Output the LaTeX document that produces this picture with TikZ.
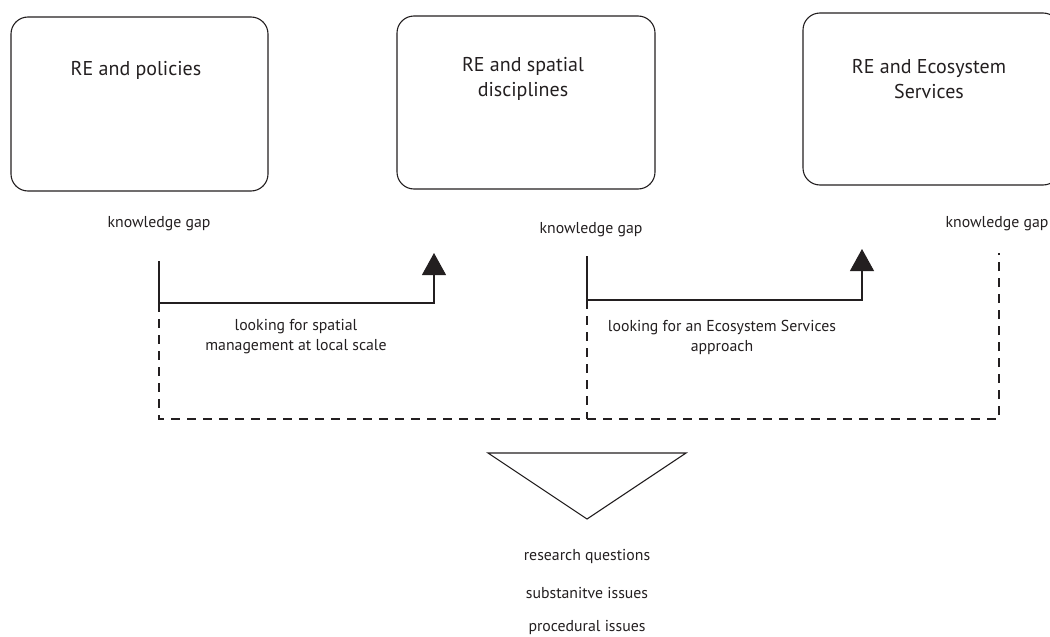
\documentclass[tikz,border=0pt]{standalone}
\usepackage{fontspec}
\setmainfont{PT Sans}
\usetikzlibrary{arrows.meta}
\definecolor{ink}{HTML}{231F20}
\tikzset{
  topicbox/.style={draw=ink, line width=1.1pt, rounded corners=17pt, inner sep=0pt},
  topictitle/.style={text=ink, font=\fontsize{20}{25}\selectfont, align=center},
  smalllabel/.style={text=ink, font=\fontsize{15.8}{20}\selectfont, align=center},
  solidlink/.style={draw=ink, line width=1.1pt},
  dashlink/.style={draw=ink, line width=1.1pt, dash pattern=on 9pt off 7pt},
  tiparrow/.style={solidlink, -{Triangle[width=24pt,length=22pt]}},
  funnel/.style={draw=ink, line width=1.1pt, line join=miter}
}
\begin{document}
\begin{tikzpicture}[x=1pt, y=-1pt]
\useasboundingbox (0,0) rectangle (1050,637);
\clip (0,0) rectangle (1050,637);

% topic boxes
\node[topicbox, minimum width=257pt, minimum height=174pt] (boxA) at (139.5,104) {};
\node[topicbox, minimum width=258pt, minimum height=173pt] (boxB) at (526,102.5) {};
\node[topicbox, minimum width=257pt, minimum height=172pt] (boxC) at (931.5,99) {};

\node[topictitle] (titleA) at (136,70) {RE and policies};
\node[topictitle] (titleB) at (523,79) {RE and spatial\\disciplines};
\node[topictitle] (titleC) at (929,79) {RE and Ecosystem\\Services};

% knowledge gaps
\node[smalllabel] (gapA) at (159,224) {knowledge gap};
\node[smalllabel] (gapB) at (591,230) {knowledge gap};
\node[smalllabel] (gapC) at (997,224) {knowledge gap};

% route corners
\coordinate (startA) at (159,261);
\coordinate (cornerA) at (159,303);
\coordinate (bendA) at (434,303);
\coordinate (tipA) at (434,253);
\coordinate (startB) at (587,256);
\coordinate (cornerB) at (587,300);
\coordinate (bendB) at (862,300);
\coordinate (tipB) at (862,249);
\coordinate (startC) at (999,253);
\coordinate (baseA) at (159,419);
\coordinate (baseB) at (587,419);
\coordinate (baseC) at (999,419);

% solid routes with arrow tips
\draw[solidlink] (startA) -- (cornerA);
\draw[tiparrow] (cornerA) -- (bendA) -- (tipA);
\draw[solidlink] (startB) -- (cornerB);
\draw[tiparrow] (cornerB) -- (bendB) -- (tipB);

% dashed collecting frame
\draw[dashlink] (cornerA) -- (baseA) -- (baseC) -- (startC);
\draw[dashlink] (cornerB) -- (baseB);

% route labels
\node[smalllabel] (routeA) at (296,337) {looking for spatial\\management at local scale};
\node[smalllabel] (routeB) at (722,337) {looking for an Ecosystem Services\\approach};

% funnel
\coordinate (funnelL) at (488,453);
\coordinate (funnelR) at (686,453);
\coordinate (funnelT) at (587,519);
\draw[funnel] (funnelL) -- (funnelR) -- (funnelT) -- cycle;

% outcomes
\node[smalllabel] (outA) at (587,556) {research questions};
\node[smalllabel] (outB) at (587,593) {substanitve issues};
\node[smalllabel] (outC) at (587,627) {procedural issues};
\end{tikzpicture}
\end{document}
